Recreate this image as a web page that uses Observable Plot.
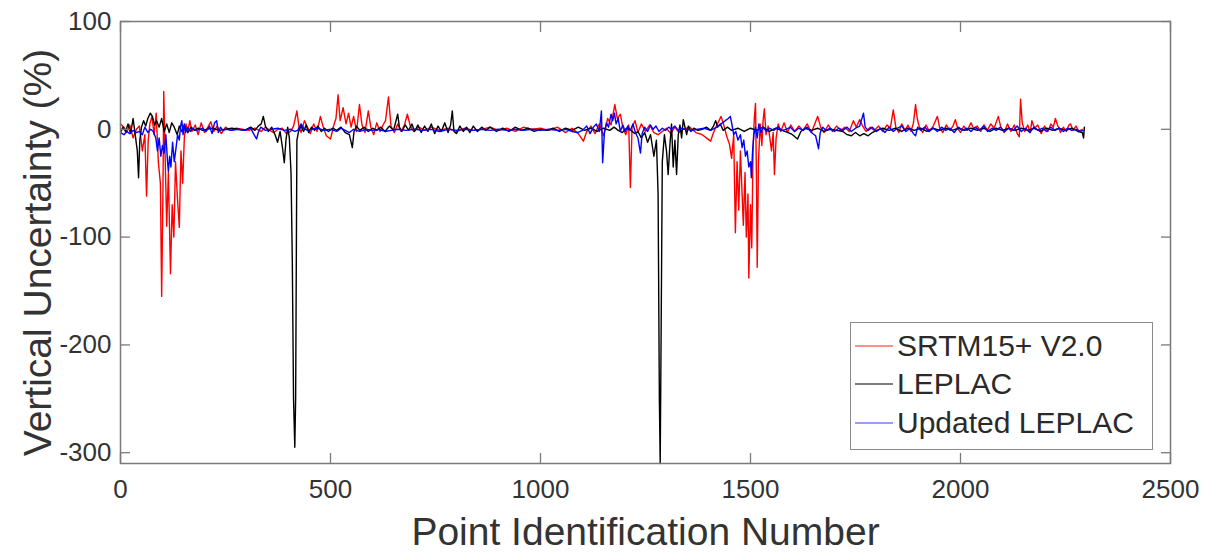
<!DOCTYPE html>
<html>
<head>
<meta charset="utf-8">
<script src="https://cdn.jsdelivr.net/npm/d3@7"></script>
<script src="https://cdn.jsdelivr.net/npm/@observablehq/plot@0.6"></script>
<style>
  html, body { margin: 0; padding: 0; background: #fff; }
  #wrap { position: relative; width: 1216px; height: 554px; font-family: "Liberation Sans", Arial, sans-serif; color: #333; }
  #legend { position: absolute; left: 850px; top: 322px; width: 303px; height: 128px; border: 1.5px solid #8a8a8a; background: #fff; box-sizing: border-box; }
  .row { position: absolute; left: 0; height: 36px; display: flex; align-items: center; font-size: 30px; color: #2a2a2a; white-space: nowrap; }
  .row svg { margin-left: 4px; margin-right: 4px; }
</style>
</head>
<body>
<div id="wrap"></div>
<script>
// Series names
const seriesNames = ["SRTM15+ V2.0", "LEPLAC", "Updated LEPLAC"];
const seriesColors = ["#ff0000", "#000000", "#0000ff"];

// Tick values
const xTicks = [0, 500, 1000, 1500, 2000, 2500];
const yTicks = [100, 0, -100, -200, -300];

// [point id, vertical uncertainty %]
const srtm = [
[0,5],[8,2],[15,-3],[22,4],[30,-8],[38,0],[45,3],[52,-20],[58,-5],[62,-62],[66,-10],[70,5],[75,12],[80,-5],[85,15],[90,-30],[95,-50],[98,-155],[101,-60],[103,35],[106,-20],[110,-90],[114,-40],[119,-134],[123,-70],[127,-100],[131,-30],[135,-60],[140,-91],[144,-20],[148,-50],[152,-8],[156,5],[160,-3],[165,8],[170,-2],[178,4],[185,-5],[192,6],[200,-3],[208,2],[215,7],[222,-2],[230,3],[240,-4],[250,2],[262,-1],[275,1],[290,0],[305,-1],[320,1],[335,-2],[345,2],[355,-1],[365,-3],[375,0],[385,1],[395,-4],[405,-2],[412,3],[420,17],[425,2],[430,-3],[438,8],[445,2],[452,-4],[460,5],[468,-2],[476,12],[482,3],[490,-6],[500,-9],[508,4],[513,10],[518,32],[523,8],[530,20],[537,5],[543,15],[549,2],[555,12],[562,-2],[569,23],[575,4],[582,-3],[590,17],[596,2],[603,-5],[610,6],[618,-2],[625,4],[631,8],[638,30],[644,3],[652,-3],[660,5],[668,-2],[676,4],[683,14],[690,3],[698,-2],[710,2],[725,-1],[740,2],[760,-1],[780,1],[800,-2],[820,1],[840,-1],[860,0],[880,2],[900,-1],[920,1],[940,-2],[960,2],[980,0],[1000,1],[1020,-1],[1040,2],[1060,-3],[1075,1],[1090,-4],[1102,-11],[1110,-2],[1120,3],[1130,-4],[1140,5],[1150,-6],[1160,10],[1168,4],[1177,23],[1183,10],[1190,14],[1196,2],[1203,-5],[1210,4],[1214,-54],[1218,2],[1225,8],[1232,-3],[1240,5],[1250,-2],[1260,4],[1270,-3],[1280,-5],[1290,-2],[1300,1],[1310,-4],[1320,2],[1330,-3],[1340,0],[1355,2],[1370,-3],[1385,-5],[1395,-8],[1405,-11],[1412,-3],[1420,4],[1430,12],[1437,3],[1443,-6],[1450,-14],[1455,-27],[1460,-5],[1464,-96],[1468,-30],[1472,-75],[1476,-20],[1480,-60],[1483,-89],[1487,-40],[1490,-100],[1494,-60],[1496,-138],[1500,-70],[1503,-110],[1506,-20],[1509,10],[1512,24],[1514,-40],[1516,-128],[1519,-30],[1523,5],[1527,-15],[1530,8],[1533,19],[1537,-5],[1542,3],[1546,-8],[1550,-20],[1554,-3],[1557,-42],[1561,-8],[1566,5],[1572,-2],[1580,6],[1588,-3],[1596,4],[1605,-2],[1615,3],[1625,-1],[1635,5],[1645,-3],[1652,4],[1660,12],[1667,2],[1675,-3],[1685,4],[1695,-2],[1705,3],[1715,-1],[1725,2],[1735,-2],[1745,8],[1752,2],[1760,9],[1767,3],[1775,-2],[1785,2],[1795,-1],[1805,3],[1815,-2],[1825,4],[1833,1],[1840,18],[1846,2],[1853,-3],[1860,5],[1868,-1],[1875,4],[1882,-2],[1888,6],[1893,23],[1897,10],[1902,2],[1910,-3],[1918,4],[1926,-2],[1935,3],[1945,12],[1950,2],[1958,-3],[1966,4],[1975,-1],[1982,3],[1988,9],[1993,1],[2000,-3],[2008,3],[2016,-1],[2025,6],[2032,0],[2040,3],[2048,-2],[2056,4],[2064,-1],[2072,5],[2080,1],[2090,12],[2096,2],[2104,-3],[2112,5],[2120,-2],[2128,4],[2135,-4],[2140,-7],[2143,28],[2147,6],[2153,-2],[2160,4],[2166,-3],[2170,8],[2176,1],[2184,4],[2192,-4],[2200,3],[2208,-2],[2215,5],[2221,2],[2226,10],[2231,4],[2238,-3],[2245,2],[2252,-2],[2258,4],[2262,5],[2268,-1],[2275,3],[2282,-2],[2290,0]
];

const leplac = [
[0,-3],[6,2],[12,-2],[18,5],[24,-4],[30,10],[35,-5],[40,-20],[43,-45],[46,-10],[50,2],[55,8],[60,3],[65,10],[71,15],[76,12],[81,4],[86,8],[92,2],[98,10],[104,-2],[110,5],[116,-3],[122,6],[128,2],[135,-5],[140,3],[146,-2],[152,4],[160,-3],[168,2],[176,-1],[185,1],[195,-1],[205,0],[220,1],[235,-1],[250,0],[265,1],[280,0],[295,-1],[310,2],[320,-1],[328,3],[335,5],[340,12],[345,3],[352,-2],[360,2],[368,-5],[374,-12],[380,-2],[386,-18],[390,-31],[394,-10],[398,2],[402,-8],[406,-40],[409,-120],[412,-250],[415,-295],[417,-250],[420,-10],[424,-2],[430,3],[436,-2],[442,4],[448,-3],[455,2],[462,-1],[470,3],[478,-2],[486,1],[495,-2],[505,1],[515,-1],[525,2],[535,-3],[545,-5],[552,-17],[556,-2],[562,3],[570,-1],[580,2],[590,-2],[600,1],[610,-1],[620,2],[630,-2],[640,3],[650,-1],[660,14],[664,2],[670,-2],[678,4],[686,-1],[694,5],[700,-2],[708,4],[716,-3],[724,3],[732,-2],[740,5],[748,-4],[756,3],[764,-2],[772,6],[780,-3],[786,4],[790,17],[794,-2],[800,-4],[808,3],[816,-2],[824,2],[832,-3],[840,3],[850,-2],[860,2],[870,-1],[880,2],[895,-2],[910,1],[925,-2],[940,2],[955,-1],[970,1],[985,-2],[1000,0],[1015,-1],[1030,1],[1045,-2],[1060,1],[1075,-1],[1090,2],[1105,-1],[1120,1],[1135,-2],[1150,1],[1165,-1],[1175,2],[1185,-1],[1195,-3],[1205,1],[1215,-1],[1225,-4],[1232,-2],[1240,-8],[1248,-3],[1255,-12],[1262,-5],[1270,-25],[1276,-10],[1280,-60],[1283,-250],[1285,-310],[1287,-200],[1290,-30],[1295,-5],[1300,-20],[1304,-42],[1308,-15],[1312,5],[1316,-35],[1320,-10],[1324,-42],[1328,-5],[1332,4],[1336,-8],[1340,9],[1344,2],[1348,-5],[1352,3],[1358,-2],[1365,1],[1375,-1],[1385,0],[1395,2],[1405,-1],[1412,3],[1417,8],[1422,2],[1428,5],[1435,-1],[1445,2],[1455,-1],[1470,1],[1485,-2],[1500,1],[1515,-1],[1530,2],[1545,-2],[1560,1],[1575,-1],[1590,-3],[1600,-5],[1612,-9],[1620,-2],[1630,1],[1645,-1],[1660,1],[1675,-2],[1690,0],[1705,-1],[1720,-2],[1730,-5],[1740,-6],[1750,-3],[1760,-6],[1770,-4],[1780,-6],[1790,-3],[1800,-1],[1815,1],[1830,-1],[1845,1],[1860,-2],[1875,1],[1890,-1],[1905,1],[1920,-2],[1935,1],[1950,-1],[1965,1],[1980,-1],[1995,1],[2010,-1],[2025,1],[2040,-1],[2055,1],[2070,-2],[2085,1],[2100,-1],[2115,1],[2130,-1],[2145,1],[2160,-1],[2175,1],[2190,-2],[2205,1],[2220,-1],[2235,1],[2250,-1],[2265,1],[2280,-2],[2290,-3],[2293,-8],[2295,2]
];

const updated = [
[0,-3],[8,-5],[15,-2],[22,-4],[30,-1],[38,-3],[45,-2],[52,-5],[58,2],[65,-3],[72,0],[78,-2],[84,-8],[88,-20],[92,-8],[96,-25],[100,-15],[104,-22],[108,-5],[112,-30],[114,-39],[117,-25],[120,-35],[124,-12],[128,-30],[132,-18],[136,-5],[140,-10],[143,3],[146,8],[149,-5],[152,5],[155,-3],[160,2],[166,-2],[172,1],[180,-1],[188,0],[196,1],[204,-2],[212,3],[218,-4],[224,6],[229,8],[233,-3],[238,2],[244,-1],[252,0],[265,-1],[280,0],[295,-1],[310,1],[318,-5],[324,-9],[328,-3],[334,2],[345,-1],[360,0],[375,1],[390,-1],[405,0],[415,-2],[422,-1],[430,5],[436,1],[445,-1],[455,0],[470,1],[485,-1],[500,0],[515,-2],[525,1],[535,-1],[545,-3],[555,0],[570,-2],[585,0],[600,-1],[615,0],[630,-2],[645,-1],[660,0],[680,-1],[700,0],[720,-1],[740,0],[760,-2],[780,0],[800,-1],[820,0],[840,-1],[860,0],[880,-1],[900,0],[920,-1],[940,0],[960,-1],[980,0],[1000,-1],[1020,0],[1040,-1],[1060,0],[1075,-2],[1088,-3],[1100,-1],[1110,3],[1118,-4],[1126,2],[1133,5],[1140,-2],[1145,17],[1148,-31],[1152,-4],[1157,6],[1162,2],[1168,14],[1172,8],[1176,15],[1180,5],[1185,10],[1190,-2],[1196,4],[1202,-2],[1208,3],[1214,-1],[1220,5],[1226,-3],[1232,-8],[1238,-22],[1242,-4],[1248,2],[1255,-2],[1262,4],[1268,0],[1275,3],[1282,-2],[1290,1],[1298,-1],[1305,2],[1312,0],[1320,3],[1328,-1],[1335,1],[1345,0],[1360,-1],[1375,0],[1390,1],[1405,-1],[1420,2],[1430,5],[1440,8],[1447,10],[1452,12],[1456,4],[1460,-5],[1465,-2],[1470,-10],[1476,-5],[1480,-17],[1484,-10],[1488,-25],[1492,-20],[1496,-35],[1500,-30],[1502,-45],[1505,-20],[1508,-5],[1512,2],[1516,-8],[1520,5],[1525,-3],[1530,2],[1538,-2],[1545,1],[1555,-1],[1565,2],[1575,-1],[1585,0],[1595,2],[1605,-2],[1615,1],[1625,-1],[1635,2],[1645,-3],[1655,-6],[1662,-18],[1666,-3],[1672,2],[1680,-1],[1690,1],[1700,-2],[1710,1],[1720,-1],[1730,2],[1740,-2],[1750,1],[1760,3],[1769,15],[1773,2],[1780,-1],[1790,2],[1800,-2],[1810,1],[1820,-3],[1830,2],[1840,-2],[1850,1],[1860,3],[1870,-2],[1880,1],[1888,-4],[1893,-6],[1898,2],[1905,-1],[1915,2],[1925,-2],[1935,1],[1945,-2],[1955,2],[1965,-1],[1975,1],[1985,-3],[1995,2],[2005,-1],[2015,1],[2025,-2],[2035,2],[2045,-1],[2055,3],[2065,-2],[2075,1],[2085,-1],[2095,2],[2105,-2],[2115,1],[2125,-1],[2135,3],[2145,-2],[2155,1],[2165,-3],[2175,2],[2185,-1],[2195,1],[2205,-2],[2215,2],[2225,-1],[2235,1],[2245,-2],[2255,1],[2265,-1],[2275,0],[2285,-2],[2292,-1]
];

const seriesData = [srtm, leplac, updated];
const rows = seriesData.map((arr, i) => arr.map(([id, v]) => ({id, v, s: seriesNames[i]})));

const axisColor = "#7a7a7a";
const textColor = "#333333";

const chart = Plot.plot({
  width: 1216,
  height: 554,
  marginLeft: 120,
  marginRight: 46,
  marginTop: 21,
  marginBottom: 91,
  style: {fontFamily: "'Liberation Sans', Arial, sans-serif", color: textColor, background: "#fff"},
  x: {domain: [0, 2500]},
  y: {domain: [-310, 100]},
  marks: [
    Plot.lineY(rows[0], {x: "id", y: "v", stroke: seriesColors[0], strokeWidth: 1.4}),
    Plot.lineY(rows[1], {x: "id", y: "v", stroke: seriesColors[1], strokeWidth: 1.4}),
    Plot.lineY(rows[2], {x: "id", y: "v", stroke: seriesColors[2], strokeWidth: 1.4}),
    Plot.frame({stroke: axisColor, strokeWidth: 1.5}),
    // inward ticks on all four sides
    Plot.axisX(xTicks, {anchor: "bottom", tickSize: 10, dy: -10, fill: "none", stroke: axisColor, strokeWidth: 1.3, label: null}),
    Plot.axisX(xTicks, {anchor: "top", tickSize: 10, dy: 10, fill: "none", stroke: axisColor, strokeWidth: 1.3, label: null}),
    Plot.axisY(yTicks, {anchor: "left", tickSize: 10, dx: 10, fill: "none", stroke: axisColor, strokeWidth: 1.3, label: null}),
    Plot.axisY(yTicks, {anchor: "right", tickSize: 10, dx: -10, fill: "none", stroke: axisColor, strokeWidth: 1.3, label: null}),
    // tick labels
    Plot.axisX(xTicks, {anchor: "bottom", tickSize: 0, tickPadding: 16, fontSize: 26, fill: textColor, label: null, tickFormat: d => String(d)}),
    Plot.axisY(yTicks, {anchor: "left", tickSize: 0, tickPadding: 9, fontSize: 26, fill: textColor, label: null, tickFormat: d => String(d)}),
    // axis titles
    Plot.text(["Point Identification Number"], {frameAnchor: "bottom", dy: 69, fontSize: 39, fill: textColor, lineAnchor: "middle", text: d => d}),
    Plot.text(["Vertical Uncertainty (%)"], {frameAnchor: "left", dx: -82, dy: 10, rotate: -90, fontSize: 39, fill: textColor, lineAnchor: "middle", textAnchor: "middle", text: d => d})
  ]
});

const wrap = document.getElementById("wrap");
wrap.appendChild(chart);

// Legend
const legend = document.createElement("div");
legend.id = "legend";
const legendColors = ["#ff6a6a", "#555555", "#7a7aff"];
const rowTops = [5, 43, 82];
seriesNames.forEach((name, i) => {
  const r = document.createElement("div");
  r.className = "row";
  r.style.top = rowTops[i] + "px";
  r.innerHTML = `<svg width="38" height="4"><line x1="0" y1="2" x2="38" y2="2" stroke="${legendColors[i]}" stroke-width="1.6"/></svg><span>${name}</span>`;
  legend.appendChild(r);
});
wrap.appendChild(legend);
</script>
</body>
</html>
